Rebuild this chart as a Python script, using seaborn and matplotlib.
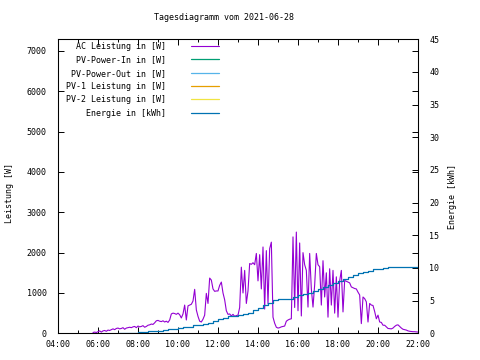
import numpy as np
import pandas as pd
import matplotlib
matplotlib.use("Agg")
import matplotlib.pyplot as plt
import seaborn as sns
from matplotlib.ticker import MultipleLocator, FixedLocator

# ---------------- data ----------------
title = "Tagesdiagramm vom 2021-06-28"
ylabel_left = "Leistung [W]"
ylabel_right = "Energie [kWh]"
hour_ticks = list(range(4, 23, 2))
hour_labels = [f"{h:02d}:00" for h in hour_ticks]

# AC power, 5-minute readings starting 05:45 (rows = hours)
ac_start_hour = 5.75
ac_power = (
    [20, 30, 20]
    + [40, 60, 30, 60, 70, 50, 80, 70, 90, 110, 90, 120]                 # 06
    + [130, 110, 120, 140, 100, 130, 140, 150, 140, 160, 170, 140]       # 07
    + [180, 160, 170, 190, 150, 170, 200, 210, 230, 220, 260, 310]       # 08
    + [320, 300, 290, 310, 280, 300, 270, 330, 480, 500, 490, 470]       # 09
    + [500, 460, 380, 480, 700, 330, 680, 700, 720, 800, 1090, 580]      # 10
    + [420, 300, 280, 350, 450, 990, 740, 1370, 1320, 1100, 1040, 1050]  # 11
    + [1050, 1190, 1270, 1000, 830, 560, 470, 480, 430, 470, 420, 440]   # 12
    + [450, 640, 1640, 1000, 1560, 740, 1050, 1730, 1710, 1750, 1700, 1980]  # 13
    + [1300, 1950, 1100, 2140, 600, 2050, 730, 2100, 2260, 400, 250, 150]    # 14
    + [130, 140, 160, 170, 180, 300, 330, 350, 360, 2390, 640, 2510]         # 15
    + [560, 2240, 430, 2000, 1700, 1560, 650, 1980, 1100, 650, 1200, 1980]   # 16
    + [1700, 1650, 700, 1800, 900, 1500, 400, 1600, 700, 1560, 500, 1400]    # 17
    + [400, 1300, 1560, 530, 1310, 1290, 1270, 1250, 1150, 1130, 1110, 1100] # 18
    + [1020, 950, 240, 900, 860, 780, 280, 740, 700, 690, 540, 360]          # 19
    + [450, 280, 270, 200, 200, 160, 120, 115, 110, 130, 170, 200]           # 20
    + [210, 170, 130, 100, 90, 80, 60, 50, 45, 40, 40, 35]                   # 21
    + [30]
)

# Cumulative energy, 15-minute readings starting 07:00
energy_start_hour = 7.0
energy_kwh = [
    0.1, 0.1, 0.1, 0.1,   # 07
    0.2, 0.2, 0.3, 0.3,   # 08
    0.4, 0.5, 0.6, 0.7,   # 09
    0.8, 0.9, 1.0, 1.2,   # 10
    1.3, 1.4, 1.6, 1.9,   # 11
    2.2, 2.4, 2.6, 2.7,   # 12
    2.8, 2.9, 3.1, 3.5,   # 13
    3.9, 4.3, 4.7, 5.1,   # 14
    5.2, 5.3, 5.3, 5.5,   # 15
    5.8, 6.0, 6.2, 6.5,   # 16
    6.8, 7.1, 7.4, 7.7,   # 17
    8.0, 8.3, 8.6, 8.9,   # 18
    9.2, 9.4, 9.6, 9.8,   # 19
    9.9, 10.0, 10.1, 10.1,  # 20
    10.2, 10.2, 10.2, 10.2,  # 21
    10.2,
]

# series without values on this day (legend only)
pv_power_in = []
pv_power_out = []
pv1_power = []
pv2_power = []

labels = ["AC Leistung in [W]", "PV-Power-In in [W]", "PV-Power-Out in [W]",
          "PV-1 Leistung in [W]", "PV-2 Leistung in [W]", "Energie in [kWh]"]
colors = ["#9400d3", "#009e73", "#56b4e9", "#e69f00", "#f0e442", "#0072b2"]

# ---------------- figure ----------------
sns.set_theme(style="white")
plt.rcParams['font.family'] = ['DejaVu Sans Mono']
plt.rcParams['font.size'] = 6

W, H = 480, 360
fig = plt.figure(figsize=(4.8, 3.6), dpi=100)
x0, x1, y0, y1 = 58, 418, 333.3, 39.3
ax = fig.add_axes([x0 / W, 1 - y0 / H, (x1 - x0) / W, (y0 - y1) / H])

ac_time = ac_start_hour + np.arange(len(ac_power)) * 5 / 60
df_ac = pd.DataFrame({"Zeit": ac_time, "AC": ac_power})
sns.lineplot(data=df_ac, x="Zeit", y="AC", ax=ax, color=colors[0], lw=0.8,
             label=labels[0])
for series, lab, col in zip([pv_power_in, pv_power_out, pv1_power, pv2_power],
                            labels[1:5], colors[1:5]):
    ax.plot(np.arange(len(series)), series, color=col, lw=0.9, label=lab)
if ax.get_legend() is not None:
    ax.get_legend().remove()

ax2 = ax.twinx()
en_time = energy_start_hour + np.arange(len(energy_kwh)) * 15 / 60
df_en = pd.DataFrame({"Zeit": en_time, "Energie": energy_kwh})
sns.lineplot(data=df_en, x="Zeit", y="Energie", ax=ax2, color=colors[5], lw=0.9,
             drawstyle="steps-post", label=labels[5])
if ax2.get_legend() is not None:
    ax2.get_legend().remove()

ax.set_xlim(4, 22)
ax.set_ylim(0, 7290)
ax2.set_ylim(0, 45)

# ticks
ax.xaxis.set_major_locator(FixedLocator(hour_ticks))
ax.set_xticklabels(hour_labels)
ax.xaxis.set_minor_locator(MultipleLocator(1))
ax.yaxis.set_major_locator(MultipleLocator(1000))
ax2.yaxis.set_major_locator(MultipleLocator(5))
ax.tick_params(axis="both", which="major", direction="in", length=4, width=0.7,
               color="black", labelsize=6, labelcolor="black",
               top=True, right=True, bottom=True, left=True, pad=8)
ax.tick_params(axis="x", which="minor", direction="in", length=2, width=0.7,
               color="black", top=True, bottom=True)
ax.tick_params(axis="x", which="major", pad=5)
ax2.tick_params(axis="y", which="major", direction="in", length=4, width=0.7,
                color="black", labelsize=6, labelcolor="black", pad=8)

for a in (ax, ax2):
    for s in a.spines.values():
        s.set_color("black")
        s.set_linewidth(0.75)
        s.set_visible(True)

ax.set_xlabel("")
ax.set_ylabel(ylabel_left, fontsize=6, color="black")
ax.yaxis.set_label_coords(-0.122, 0.477)
ax2.set_ylabel(ylabel_right, fontsize=6, color="black")
ax2.yaxis.set_label_coords(1.083, 0.464)

fig.text(224 / W, 1 - 18 / H, title, ha="center", va="center", fontsize=6,
         color="black")

# legend (gnuplot style: right-aligned text, sample on the right)
h1, l1 = ax.get_legend_handles_labels()
h2, l2 = ax2.get_legend_handles_labels()
leg = ax2.legend(h1 + h2, l1 + l2, loc="upper right",
                 bbox_to_anchor=(219 / W, 1 - 42 / H),
                 bbox_transform=fig.transFigure, frameon=False,
                 markerfirst=False, fontsize=6, handlelength=3.4,
                 handletextpad=3.0, labelspacing=0.52, borderpad=0,
                 borderaxespad=0)
for t in leg.get_texts():
    t.set_color("black")

fig.savefig("out.png", dpi=100, facecolor="white")
